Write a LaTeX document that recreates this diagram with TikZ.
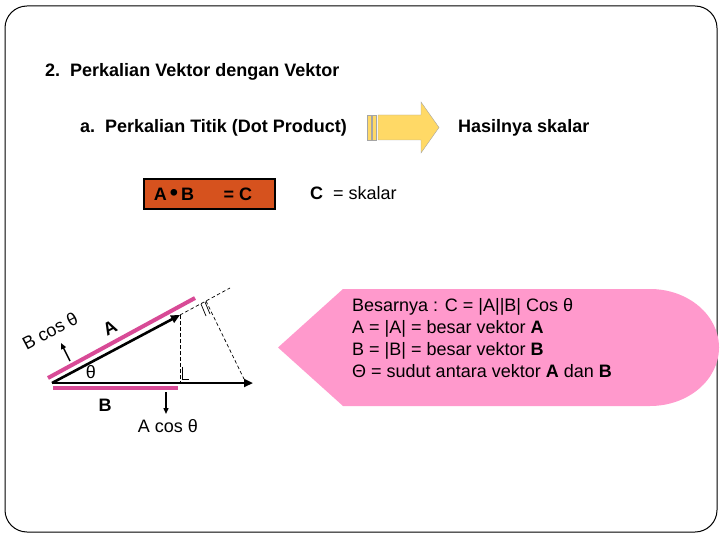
\documentclass[tikz,border=0pt]{standalone}
\usepackage{fontspec}
\setmainfont{Liberation Sans}
\usetikzlibrary{arrows.meta,calc}
\definecolor{boxorange}{RGB}{214,82,30}
\definecolor{arrowyellow}{RGB}{255,217,102}
\definecolor{arrowedge}{RGB}{165,165,165}
\definecolor{pinkline}{RGB}{216,74,150}
\definecolor{pinkfill}{RGB}{255,153,204}
\begin{document}
\begin{tikzpicture}[x=1pt,y=-1pt,
  txt/.style={inner sep=0pt, font=\fontsize{18}{21}\selectfont},
  btxt/.style={inner sep=0pt, font=\bfseries\fontsize{18}{21}\selectfont},
  vec/.style={line width=2.6pt, -{Triangle[length=9pt,width=8pt]}},
  thinarrow/.style={line width=1.4pt, -{Triangle[length=6pt,width=5pt]}},
  dashline/.style={line width=0.7pt, dash pattern=on 3.5pt off 2.5pt},
  pinkbar/.style={pinkline, line width=4pt},
]
\useasboundingbox (0,0) rectangle (720,540);
\draw[rounded corners=22pt, line width=1pt] (5,6) rectangle (717,532);

% titles
\node[btxt, anchor=base west] (title) at (45,77) {2.\ \ Perkalian Vektor dengan Vektor};
\node[btxt, anchor=base west] (sub) at (80,133) {a.\ \ Perkalian Titik (Dot Product)};
\node[btxt, anchor=base west] (hasil) at (458,133) {Hasilnya skalar};

% yellow arrow
\draw[arrowedge, fill=arrowyellow] (367,115) rectangle (371,140);
\draw[arrowedge, fill=arrowyellow] (372,115) rectangle (376,140);
\draw[arrowedge, fill=arrowyellow] (378,115) -- (421,115) -- (421,102) -- (439,127.5) -- (421,153) -- (421,140) -- (378,140) -- cycle;

% orange box
\node[draw, line width=2pt, fill=boxorange, minimum width=131pt, minimum height=30pt, inner sep=0pt] (dotbox) at (209.5,194) {};
\node[btxt, anchor=base] (ab) at (174,200.5) {A\,\scalebox{1.3}{•}\,B};
\node[btxt, anchor=base] (eqc) at (238,200.5) {= C};
\node[txt, anchor=base west] (cskalar) at (310,200) {\textbf{C}\ \ = skalar};

% pink callout
\fill[pinkfill] (278,347.5) -- (343,289) -- (650,289) .. controls (688,289) and (719,315) .. (719,347.5) .. controls (719,380) and (688,406) .. (650,406) -- (343,406) -- cycle;
\node[txt, anchor=base west] (l1) at (352,311) {Besarnya : C = |A||B| Cos θ};
\node[txt, anchor=base west] (l2) at (352,333) {A = |A| = besar vektor \textbf{A}};
\node[txt, anchor=base west] (l3) at (352,355) {B = |B| = besar vektor \textbf{B}};
\node[txt, anchor=base west] (l4) at (352,377) {Θ = sudut antara vektor \textbf{A} dan \textbf{B}};

% vector diagram
\coordinate (O) at (52,383);
\coordinate (Atip) at (180,315);
\coordinate (Btip) at (253,383);
\coordinate (Ext) at (230,288);
\coordinate (Foot) at (206,301);
\coordinate (PerpEnd) at (244,379);
\coordinate (G) at (180,383);

\draw[pinkbar] (48,378) -- (195,298);
\draw[pinkbar] (53,388) -- (178,388);

\draw[dashline] (Atip) -- (Ext);
\draw[dashline] (Atip) -- (G);
\draw[dashline] (Foot) -- (PerpEnd);
\draw[line width=0.7pt] (182,367) -- (182,379) -- (189,379);
\draw[line width=0.7pt] (201,304) -- (206,316);
\draw[line width=0.7pt] (205,302) -- (210,314);

\draw[vec] (O) -- (Btip);
\draw[vec] (O) -- (Atip);

\coordinate (d1) at (166,392);
\coordinate (d2) at (166,414);
\draw[thinarrow] (d1) -- (d2);
\coordinate (b1) at (70,361);
\coordinate (b2) at (61,343);
\draw[thinarrow] (b1) -- (b2);

\node[txt] (acos) at (168,426) {A cos θ};
\node[btxt] (Blab) at (105,405) {B};
\node[txt] (theta) at (91,372) {θ};
\node[btxt, rotate=28] (Alab) at (110,328) {A};
\node[txt, rotate=28] (bcos) at (50,331) {B cos θ};
\end{tikzpicture}
\end{document}
